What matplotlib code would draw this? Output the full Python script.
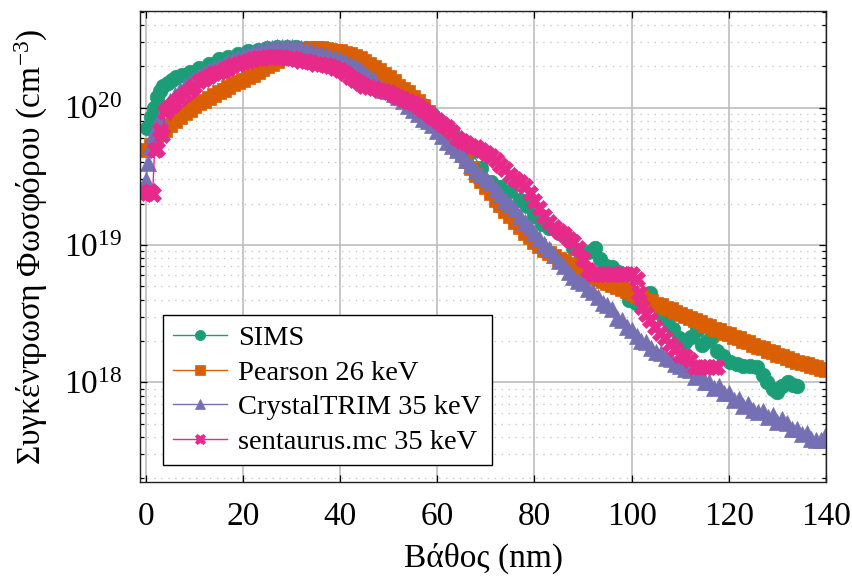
import numpy as np
import matplotlib
matplotlib.use("Agg")
import matplotlib.pyplot as plt
from matplotlib.ticker import LogLocator, FixedLocator, NullFormatter, FuncFormatter

plt.rcParams["font.family"] = ["Liberation Serif", "DejaVu Serif"]
plt.rcParams["mathtext.fontset"] = "custom"
plt.rcParams["mathtext.rm"] = "Liberation Serif"
plt.rcParams["mathtext.it"] = "Liberation Serif:italic"
plt.rcParams["mathtext.bf"] = "Liberation Serif:bold"

# ---- data: depth (nm) and log10 of phosphorus concentration (cm^-3) ----
sims_x = [0.3, 1.0, 1.6, 2.3, 3.0, 3.6, 4.5, 5.3, 6.2, 7.5, 9, 11, 13, 15, 17, 19, 21,
          23, 25, 27, 29, 31, 33, 35, 37, 39, 41, 43, 45, 47, 49, 51, 53, 55, 57, 59,
          61, 63, 65, 67, 69, 71, 73, 75, 77, 78.5, 80, 81.5, 83, 85, 86.5, 88, 89.5,
          91, 92.4, 93.5, 94.7, 96, 97.2, 98.4, 99.5, 100.8, 102.3, 103.7, 105, 106,
          107.3, 108.5, 109.8, 111, 112.3, 113.4, 114.4, 115.5, 116.5, 117.5, 118.8,
          120.2, 121.6, 123, 124.4, 125.8, 127, 127.9, 129, 130, 131, 132.1, 133.2,
          134.1]
sims_log10 = [19.85, 19.93, 20.00, 20.08, 20.12, 20.16, 20.18, 20.20, 20.22, 20.24,
              20.26, 20.29, 20.32, 20.35, 20.37, 20.39, 20.41, 20.42, 20.43, 20.44,
              20.44, 20.44, 20.43, 20.42, 20.40, 20.38, 20.35, 20.32, 20.28, 20.24,
              20.20, 20.16, 20.12, 20.08, 20.02, 19.95, 19.89, 19.83, 19.76, 19.68,
              19.56, 19.46, 19.42, 19.39, 19.33, 19.28, 19.21, 19.15, 19.12, 19.09,
              19.06, 18.98, 18.93, 18.95, 18.98, 18.90, 18.85, 18.84, 18.80, 18.68,
              18.60, 18.58, 18.62, 18.65, 18.56, 18.50, 18.45, 18.39, 18.32, 18.29,
              18.33, 18.38, 18.27, 18.30, 18.33, 18.23, 18.19, 18.15, 18.13, 18.12,
              18.12, 18.11, 18.05, 18.00, 17.95, 17.93, 17.97, 18.00, 17.98, 17.97]

pearson_x = list(range(0, 141))
pearson_log10 = [19.69, 19.73, 19.77, 19.81, 19.84, 19.87, 19.90, 19.93, 19.96, 19.985,
                 20.01, 20.03, 20.05, 20.07, 20.09, 20.11, 20.13, 20.15, 20.17, 20.185,
                 20.20, 20.22, 20.24, 20.26, 20.28, 20.30, 20.32, 20.34, 20.36, 20.38,
                 20.40, 20.41, 20.42, 20.425, 20.43, 20.43, 20.43, 20.425, 20.42, 20.415,
                 20.41, 20.40, 20.39, 20.375, 20.36, 20.34, 20.32, 20.295, 20.27, 20.245,
                 20.22, 20.19, 20.16, 20.135, 20.11, 20.08, 20.05, 20.01, 19.97, 19.925,
                 19.88, 19.835, 19.79, 19.745, 19.70, 19.655, 19.61, 19.56, 19.51, 19.465,
                 19.42, 19.375, 19.33, 19.29, 19.25, 19.21, 19.17, 19.13, 19.09, 19.055,
                 19.02, 18.99, 18.96, 18.94, 18.92, 18.90, 18.88, 18.86, 18.84, 18.82,
                 18.80, 18.785, 18.77, 18.755, 18.74, 18.725, 18.71, 18.695, 18.68, 18.665,
                 18.65, 18.63, 18.62, 18.60, 18.59, 18.57, 18.56, 18.54, 18.53, 18.51,
                 18.50, 18.48, 18.47, 18.45, 18.44, 18.42, 18.41, 18.39, 18.38, 18.36,
                 18.35, 18.33, 18.32, 18.30, 18.29, 18.27, 18.26, 18.25, 18.23, 18.22,
                 18.20, 18.19, 18.18, 18.16, 18.15, 18.14, 18.13, 18.12, 18.11, 18.10,
                 18.09]

trim_x = [0, 0.5, 1, 1.5, 2] + list(range(3, 141))
trim_log10 = [19.47, 19.60, 19.72, 19.80, 19.86, 19.93, 20.00, 20.05, 20.09, 20.13,
              20.16, 20.18, 20.21, 20.23, 20.25, 20.27, 20.29, 20.30, 20.31, 20.33,
              20.35, 20.36, 20.38, 20.39, 20.40, 20.41, 20.42, 20.43, 20.43, 20.44,
              20.44, 20.44, 20.44, 20.43, 20.43, 20.42, 20.41, 20.40, 20.39, 20.38,
              20.37, 20.36, 20.35, 20.33, 20.32, 20.30, 20.28, 20.25, 20.23, 20.20,
              20.16, 20.13, 20.12, 20.10, 20.08, 20.05, 20.01, 19.98, 19.95, 19.92,
              19.90, 19.87, 19.83, 19.79, 19.75, 19.72, 19.69, 19.66, 19.62, 19.58,
              19.54, 19.51, 19.48, 19.45, 19.41, 19.37, 19.33, 19.30, 19.26, 19.21,
              19.17, 19.13, 19.09, 19.05, 19.01, 18.97, 18.93, 18.88, 18.85, 18.80,
              18.77, 18.74, 18.72, 18.68, 18.66, 18.62, 18.58, 18.56, 18.53, 18.47,
              18.45, 18.40, 18.38, 18.34, 18.30, 18.29, 18.25, 18.22, 18.21, 18.18,
              18.17, 18.13, 18.12, 18.10, 18.09, 18.04, 18.05, 18.00, 18.00, 17.96,
              17.97, 17.92, 17.92, 17.87, 17.88, 17.83, 17.84, 17.80, 17.78, 17.79,
              17.75, 17.76, 17.71, 17.73, 17.70, 17.66, 17.66, 17.62, 17.63, 17.59,
              17.58, 17.58, 17.62]

smc_x = [-0.5, 0.2, 0.8, 1.4, 1.8, 2.3, 2.9, 3.4, 4.0, 4.6, 5.3] + list(range(6, 102)) + \
        [101.5, 102.2, 103, 103.7, 104.8, 105.8, 106.8, 107.8, 108.9, 109.9, 111, 112,
         113, 114, 115, 116, 117, 117.5]
smc_log10 = [19.38, 19.38, 19.39, 19.37, 19.69, 19.70, 19.84, 19.80, 19.97, 20.00, 20.02,
             20.04, 20.07, 20.10, 20.13, 20.16, 20.19, 20.21, 20.23, 20.25, 20.26,
             20.27, 20.29, 20.31, 20.32, 20.33, 20.34, 20.35, 20.36, 20.36, 20.37,
             20.37, 20.37, 20.37, 20.36, 20.36, 20.35, 20.34, 20.34, 20.33, 20.32,
             20.32, 20.31, 20.30, 20.29, 20.27, 20.25, 20.22, 20.20, 20.18, 20.16,
             20.15, 20.14, 20.13, 20.12, 20.11, 20.09, 20.08, 20.06, 20.05, 20.03,
             20.01, 19.98, 19.96, 19.93, 19.91, 19.88, 19.86, 19.82, 19.78, 19.76,
             19.74, 19.72, 19.71, 19.69, 19.67, 19.65, 19.62, 19.58, 19.55, 19.51,
             19.48, 19.46, 19.43, 19.38, 19.32, 19.27, 19.21, 19.17, 19.13, 19.10,
             19.08, 19.04, 19.02, 18.98, 18.90, 18.82, 18.79, 18.79, 18.79, 18.79,
             18.79, 18.79, 18.79, 18.79, 18.79, 18.75,
             18.65, 18.55, 18.50, 18.45, 18.40, 18.36, 18.32, 18.28, 18.24, 18.20,
             18.19, 18.16, 18.11, 18.11, 18.11, 18.11, 18.11, 18.11]

labels = ["SIMS", "Pearson 26 keV", "CrystalTRIM 35 keV", "sentaurus.mc 35 keV"]
colors = ["#1b9e77", "#d95f02", "#7570b3", "#e7298a"]
x_ticks = [0, 20, 40, 60, 80, 100, 120, 140]

fig = plt.figure(figsize=(8.52, 5.80), dpi=100)
ax = fig.add_axes([140 / 852, 1 - 482 / 580, (826 - 140) / 852, (482 - 11) / 580])

series = [
    (sims_x, sims_log10, "o", 10.5),
    (pearson_x, pearson_log10, "s", 9.5),
    (trim_x, trim_log10, "^", 11.0),
    (smc_x, smc_log10, "X", 11.0),
]
for (xs, ls, mk, ms), lab, col in zip(series, labels, colors):
    ax.plot(xs, 10.0 ** np.asarray(ls), marker=mk, markersize=ms, color=col,
            markerfacecolor=col, markeredgecolor=col, markeredgewidth=0.5,
            linewidth=1.0, label=lab)

ax.set_yscale("log")
ax.set_xlim(-1.2, 140)
ax.set_ylim(10 ** 17.274, 10 ** 20.703)

ax.xaxis.set_major_locator(FixedLocator(x_ticks))
ax.yaxis.set_major_locator(LogLocator(base=10, numticks=10))
ax.yaxis.set_minor_locator(LogLocator(base=10, subs=np.arange(2, 10), numticks=20))
ax.yaxis.set_minor_formatter(NullFormatter())
ax.yaxis.set_major_formatter(
    FuncFormatter(lambda v, p: r"$10^{%d}$" % int(round(np.log10(v)))))

ax.grid(True, which="major", axis="both", color="#bdbdbd", linewidth=1.2, linestyle="-")
ax.grid(True, which="minor", axis="y", color="#c8c8c8", linewidth=1.0, linestyle=(0, (1, 4)))
ax.set_axisbelow(True)

ax.tick_params(which="both", direction="in", top=True, right=True, labelsize=24,
               colors="black", width=0.9)
ax.tick_params(which="major", length=5)
ax.tick_params(which="minor", length=3)
ax.tick_params(axis="x", pad=14)
ax.tick_params(axis="y", pad=13)
for sp in ax.spines.values():
    sp.set_linewidth(1.0)
    sp.set_color("#222222")

ax.set_xlabel("Βάθος (nm)", fontsize=24, labelpad=8)
ax.set_ylabel(r"Συγκέντρωση Φωσφόρου (cm$^{-3}$)", fontsize=24, labelpad=10)

leg = ax.legend(loc="lower left", bbox_to_anchor=(0.025, 0.025), fontsize=20.5,
                frameon=True, fancybox=False, framealpha=1, edgecolor="black",
                handlelength=1.9, handletextpad=0.4, borderpad=0.35, labelspacing=0.3,
                borderaxespad=0.2, numpoints=1, markerscale=0.7)
leg.get_frame().set_linewidth(1.0)

fig.savefig("out.png", dpi=100)
